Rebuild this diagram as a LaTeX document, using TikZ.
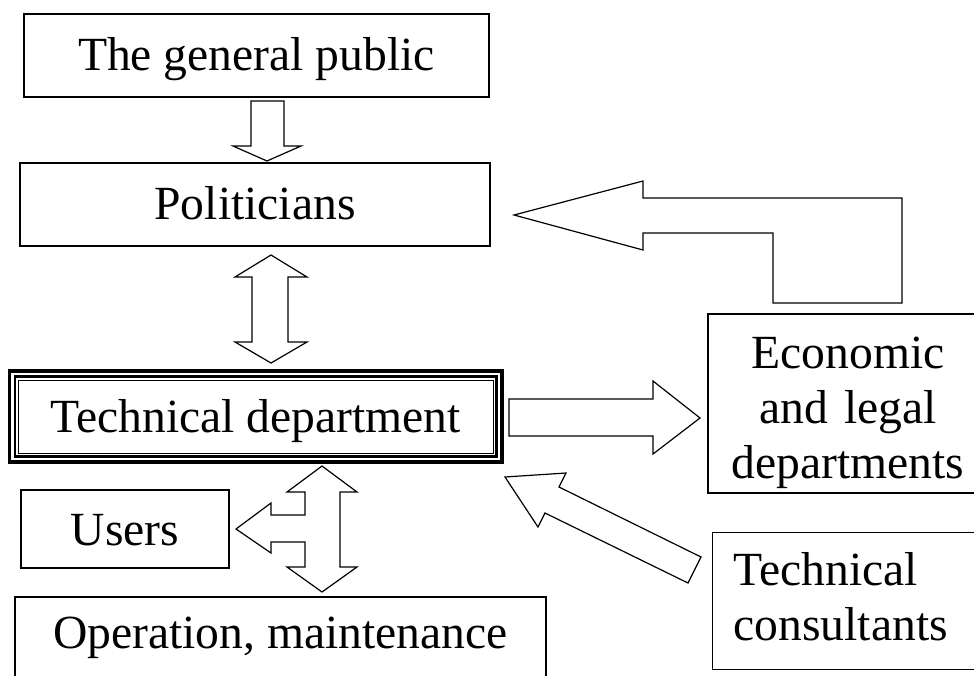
\documentclass[tikz,border=0pt]{standalone}
\usepackage{fontspec}
\setmainfont{Liberation Serif}
\usetikzlibrary{calc}

\begin{document}
\begin{tikzpicture}[x=0.5pt, y=-0.5pt,
        font=\fontsize{23.8pt}{27.5pt}\selectfont,
        box/.style={draw, line width=0.6pt, inner xsep=0pt, inner ysep=0pt,
            text height=28pt, text depth=13.5pt},
        bigarrow/.style={draw, line width=0.6pt, line join=miter}]
        \fill[white] (0,0) rectangle (974,675);
        \useasboundingbox (0,0) rectangle (974,675);

        \node[box, minimum width=232.5pt] (public) at (256.5, 55.5) {The general public};
        \node[box, minimum width=235pt] (pol) at (255, 204.5) {Politicians};
        \node[box, line width=0.5pt, minimum width=237.25pt, text height=26pt, text depth=10.5pt] (tech) at (255.75, 416.5) {Technical department};
        \node[box, minimum width=104pt, text height=27.5pt, text depth=11.5pt] (users) at (125, 529) {Users};
        \node[box, minimum width=265.5pt, text height=25.5pt, text depth=16.5pt] (oper) at (280.5, 639) {Operation, maintenance};
        \node[box, text width=126pt, inner xsep=7pt, align=center, text height=27pt, text depth=62.5pt] (econ) at (848, 403.5) {Economic\\and legal\\departments};
        \node[box, anchor=north west, text width=160pt, inner xsep=10.5pt, align=left, text height=26.5pt, text depth=42pt] (cons) at (712, 532) {Technical\\consultants};

        % triple frame round the technical department
        \draw[line width=1.35pt] ([shift={(-1.45pt,1.45pt)}]tech.north west) rectangle ([shift={(1.45pt,-1.45pt)}]tech.south east);
        \draw[line width=1.85pt] ([shift={(-4.2pt,4.2pt)}]tech.north west) rectangle ([shift={(4.2pt,-4.2pt)}]tech.south east);

        % block arrows
        \draw[bigarrow] (251,101) -- (284,101) -- (284,146) -- (301,146) -- (267,161)
            -- (233,146) -- (251,146) -- cycle;
        \draw[bigarrow] (271,255) -- (307,277) -- (288,277) -- (288,342) -- (307,342)
            -- (271,363) -- (235,342) -- (252,342) -- (252,277) -- (235,277) -- cycle;
        \draw[bigarrow] (322,466) -- (357,492) -- (340,492) -- (340,567) -- (357,567)
            -- (322,592) -- (287,567) -- (305,567) -- (305,542) -- (271,542)
            -- (271,553) -- (236,529) -- (271,503) -- (271,515) -- (305,515)
            -- (305,492) -- (287,492) -- cycle;
        \draw[bigarrow] (509,399) -- (653,399) -- (653,381) -- (700,418) -- (653,454)
            -- (653,436) -- (509,436) -- cycle;
        \draw[bigarrow] (514,215) -- (643,181) -- (643,198) -- (902,198) -- (902,303)
            -- (773,303) -- (773,233) -- (643,233) -- (643,250) -- cycle;
        \draw[bigarrow] (505,477) -- (566,473) -- (559,487) -- (701,557) -- (688,583)
            -- (545,513) -- (538,527) -- cycle;
    \end{tikzpicture}
\end{document}
